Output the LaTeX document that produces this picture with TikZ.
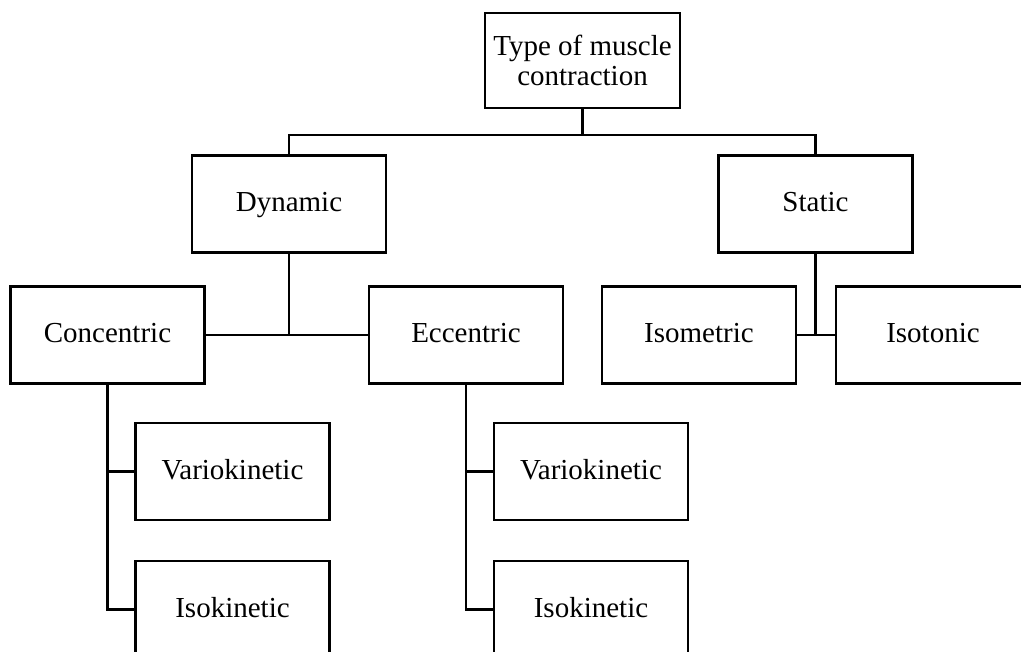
\documentclass[tikz,border=0pt]{standalone}
\usepackage{fontspec}
\setmainfont{Liberation Serif}
\usepackage{tikz}

\begin{document}
\begin{tikzpicture}[x=1pt,y=-1pt,line width=2.3pt,
  box/.style={draw,rectangle,inner sep=0pt,minimum width=194pt,minimum height=97pt,
    text height=19pt,text depth=3pt,
    align=center,font=\fontsize{29}{30}\selectfont}]
  % classification tree of contraction types, laid out in image pixels
  \useasboundingbox (0,0) rectangle (1021,652);
  \clip (0,0) rectangle (1021,652);
  \node[box,minimum width=195pt,minimum height=95pt,text height={},text depth={}] (top) at (582.5,60.5) {Type of muscle\\contraction};
  \node[box] (dyn) at (289,204) {Dynamic};
  \node[box] (stat) at (815.5,204) {Static};
  \node[box] (conc) at (107.5,335) {Concentric};
  \node[box] (ecc) at (466,335) {Eccentric};
  \node[box] (isom) at (699,335) {Isometric};
  \node[box] (isot) at (933,335) {Isotonic};
  \node[box] (vario1) at (232.5,471.5) {Variokinetic};
  \node[box] (isok1) at (232.5,609.5) {Isokinetic};
  \node[box] (vario2) at (591,471.5) {Variokinetic};
  \node[box] (isok2) at (591,609.5) {Isokinetic};
  \coordinate (bus) at (582.5,135);
  \draw (top.south) -- (bus);
  \draw (dyn.north) |- (stat.north |- bus) -- (stat.north);
  \draw (dyn.south) -- (dyn.south |- conc.east);
  \draw (conc.east) -- (ecc.west);
  \draw (stat.south) -- (stat.south |- isom.east);
  \draw (isom.east) -- (isot.west);
  \draw (conc.south) |- (isok1.west);
  \draw (vario1.west) -- (vario1.west -| conc.south);
  \draw (ecc.south) |- (isok2.west);
  \draw (vario2.west) -- (vario2.west -| ecc.south);
\end{tikzpicture}
\end{document}
